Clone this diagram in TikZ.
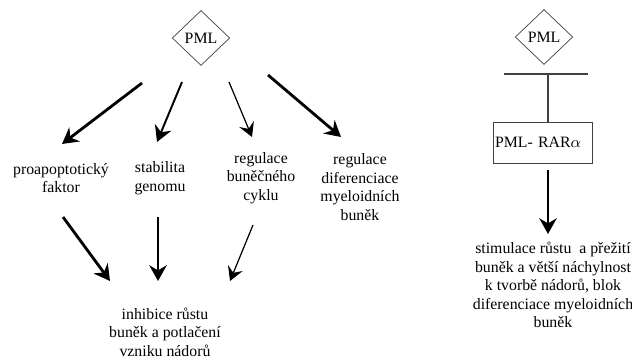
\documentclass[tikz,border=0pt]{standalone}
\usepackage{fontspec}
\setmainfont{Liberation Serif}
\usetikzlibrary{shapes.geometric,arrows.meta}

\begin{document}
\begin{tikzpicture}[x=0.02cm,y=-0.02cm,font=\fontsize{9}{10.6}\selectfont,
  gene/.style={draw=black!75,diamond,minimum width=1.15cm,minimum height=1.1cm,inner sep=0pt},
  fusion/.style={draw=black!75,text width=1.9cm,minimum height=0.82cm,inner xsep=0.04cm,inner ysep=1pt,align=left},
  effect/.style={align=center,inner sep=0pt},
  block/.style={draw=black!75,line width=0.6pt},
  act/.style={-{Stealth[length=9pt,width=10pt,inset=3pt]},line width=1.6pt},
  actmid/.style={act,line width=1.1pt},
  actthin/.style={-{Stealth[length=8pt,width=9pt,inset=3pt]},line width=0.7pt}]
\useasboundingbox (0,0) rectangle (632,361);

% left: PML and its roles
\node[gene] (pmlL) at (201,38) {PML};
\node[effect] (apo) at (61,178) {proapoptotický\\faktor};
\node[effect] (gen) at (160,178) {stabilita\\genomu};
\node[effect] (cyc) at (261,178) {regulace\\buněčného\\cyklu};
\node[effect] (dif) at (360,187) {regulace\\diferenciace\\myeloidních\\buněk};
\node[effect] (inh) at (165,332) {inhibice růstu\\buněk a potlačení\\vzniku nádorů};

\coordinate (s1) at (142,83);  \coordinate (e1) at (62,144);
\coordinate (s2) at (182,82);  \coordinate (e2) at (157,142);
\coordinate (s3) at (229,82);  \coordinate (e3) at (252,137);
\coordinate (s4) at (268,75);  \coordinate (e4) at (341,137);
\draw[act] (s1) -- (e1);
\draw[actmid] (s2) -- (e2);
\draw[actthin] (s3) -- (e3);
\draw[act] (s4) -- (e4);

\coordinate (d1) at (63,217);  \coordinate (f1) at (110,281);
\coordinate (d2) at (158,217); \coordinate (f2) at (158,281);
\coordinate (d3) at (253,225); \coordinate (f3) at (230,281);
\draw[act] (d1) -- (f1);
\draw[actmid] (d2) -- (f2);
\draw[actthin] (d3) -- (f3);

% right: PML-RARalpha blocks PML
\node[gene] (pmlR) at (544,37) {PML};
\node[fusion] (rara) at (542.5,142.5) {PML- RAR$\alpha$};
\node[effect] (stim) at (553,285) {stimulace růstu \ a přežití\\buněk a větší náchylnost\\k tvorbě nádorů, blok\\diferenciace myeloidních\\buněk};

\coordinate (bar) at (548,74);
\draw[block] (bar) -- (rara.north -| bar);
\draw[block] ([xshift=-25]bar) -- ([xshift=23]bar);
\coordinate (r1) at (548,170); \coordinate (r2) at (548,234);
\draw[actmid] (r1) -- (r2);
\end{tikzpicture}
\end{document}
